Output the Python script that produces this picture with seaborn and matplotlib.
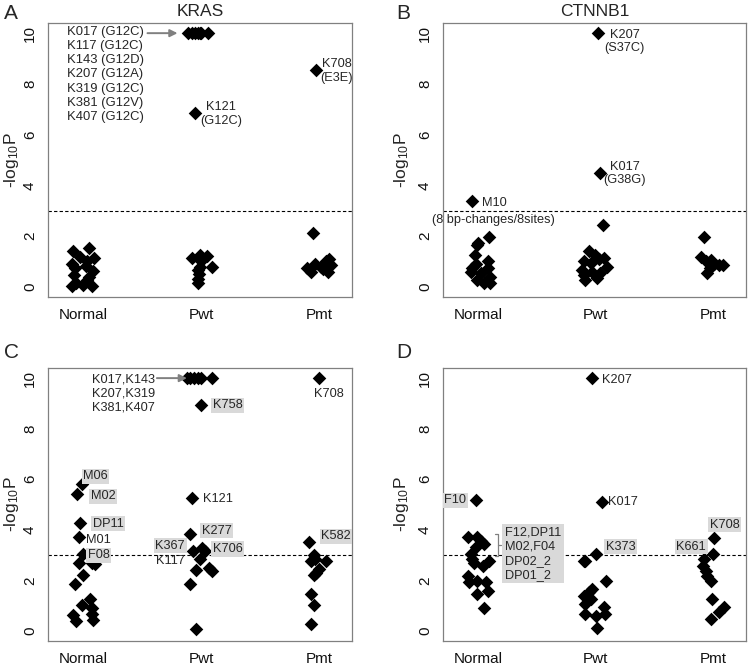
import matplotlib
matplotlib.use("Agg")
import matplotlib.pyplot as plt
import pandas as pd
import seaborn as sns

# %% data: -log10 P per sample, plus the horizontal jitter
groups = ["Normal", "Pwt", "Pmt"]

# A  KRAS
kras_normal_y = [1.43, 1.55, 1.12, 0.92, 1.18, 1.0, 0.75, 0.82, 0.62, 0.45, 0.38, 0.15, 0.08, 0.05, 0.05, 0.25]
kras_normal_dx = [-0.09, 0.05, 0.09, -0.1, -0.03, 0.03, -0.07, 0.02, 0.08, -0.08, 0.05, -0.06, 0.0, 0.07, -0.1, 0.03]
kras_pwt_y = [10, 10, 10, 10, 10, 10, 10, 6.87, 1.26, 1.2, 1.13, 1.0, 0.8, 0.8, 0.65, 0.5, 0.3, 0.15]
kras_pwt_dx = [-0.11, -0.08, -0.05, -0.03, -0.01, 0.0, 0.06, -0.05, -0.01, 0.05, -0.08, 0.0, 0.09, -0.01, -0.03, -0.02, -0.03, -0.03]
kras_pmt_y = [8.55, 2.12, 0.75, 0.6, 0.9, 0.8, 1.0, 1.1, 0.6, 0.85, 0.7]
kras_pmt_dx = [-0.02, -0.05, -0.1, -0.07, -0.03, 0.02, 0.06, 0.09, 0.08, 0.1, 0.04]

# B  CTNNB1
ctnnb1_normal_y = [3.4, 1.96, 1.73, 1.65, 1.25, 1.0, 0.9, 0.74, 0.74, 0.55, 0.4, 0.28, 0.15, 0.15, 0.6]
ctnnb1_normal_dx = [-0.05, 0.09, 0.0, -0.01, -0.03, 0.08, -0.02, -0.05, 0.08, 0.02, 0.1, -0.01, 0.05, 0.1, -0.06]
ctnnb1_pwt_y = [10.0, 4.49, 2.45, 1.4, 1.27, 1.13, 1.0, 0.93, 0.8, 0.67, 0.6, 0.54, 0.45, 0.28, 0.34, 1.1]
ctnnb1_pwt_dx = [0.02, 0.04, 0.06, -0.06, -0.01, 0.07, -0.1, -0.04, 0.1, -0.12, -0.03, 0.04, -0.1, -0.09, 0.01, 0.03]
ctnnb1_pmt_y = [1.96, 1.18, 1.0, 1.05, 0.9, 0.85, 0.55, 0.75, 0.85]
ctnnb1_pmt_dx = [-0.08, -0.1, -0.06, -0.02, 0.01, 0.05, -0.05, -0.03, 0.08]

# C  KRAS (second set)
c_normal_y = [5.8, 5.43, 4.26, 3.73, 3.06, 2.68, 2.7, 2.65, 2.23, 1.87, 1.26, 1.03, 0.92, 0.62, 0.4, 0.66, 0.45]
c_normal_dx = [-0.01, -0.05, -0.03, -0.04, 0.0, -0.04, 0.07, 0.1, 0.0, -0.07, 0.06, -0.01, 0.07, -0.085, -0.06, 0.07, 0.085]
c_pwt_y = [10, 10, 10, 10, 10, 10, 8.93, 5.27, 3.85, 3.15, 3.28, 3.15, 2.84, 2.41, 2.49, 2.38, 1.85, 0.07]
c_pwt_dx = [-0.12, -0.09, -0.06, -0.03, 0.0, 0.09, 0.0, -0.08, -0.095, -0.07, 0.01, 0.03, -0.01, -0.04, 0.07, 0.09, -0.095, -0.04]
c_pmt_y = [10.0, 3.52, 3.0, 2.75, 2.85, 2.78, 2.45, 2.3, 2.2, 1.45, 1.03, 0.27]
c_pmt_dx = [0.0, -0.08, -0.04, -0.07, -0.03, 0.06, 0.0, -0.02, -0.04, -0.07, -0.04, -0.07]

# D  CTNNB1 (second set)
d_normal_y = [5.16, 3.7, 3.7, 3.57, 3.44, 3.3, 3.04, 2.85, 2.78, 2.58, 2.18, 1.92, 1.98, 1.92, 1.46, 1.59, 0.9, 2.7]
d_normal_dx = [-0.02, -0.085, -0.01, 0.02, 0.05, -0.02, -0.06, -0.05, 0.09, 0.04, -0.09, -0.08, -0.01, 0.07, -0.01, 0.08, 0.05, -0.04]
d_pwt_y = [10.0, 5.09, 3.04, 2.78, 2.75, 1.98, 1.65, 1.52, 1.39, 1.26, 1.06, 0.93, 0.66, 0.6, 0.66, 0.13]
d_pwt_dx = [-0.03, 0.05, 0.0, -0.1, -0.09, 0.09, -0.03, -0.06, -0.1, -0.04, -0.09, 0.07, -0.09, 0.0, 0.08, 0.01]
d_pmt_y = [3.68, 3.04, 2.84, 2.58, 2.38, 2.18, 1.98, 1.26, 0.93, 0.73, 0.46]
d_pmt_dx = [0.01, 0.0, -0.08, -0.09, -0.06, -0.05, -0.02, -0.01, 0.09, 0.05, -0.02]

threshold = 3

# %% style
sns.set_style("white")
plt.rcParams["font.family"] = ["Liberation Sans", "DejaVu Sans"]
plt.rcParams["mathtext.fontset"] = "custom"
plt.rcParams["mathtext.rm"] = "Liberation Sans"
plt.rcParams["mathtext.default"] = "regular"

FRAME = "#808080"
BOX = dict(boxstyle="square,pad=0.12", fc="#d9d9d9", ec="none")


def make_frame(ys, dxs):
    rows = []
    for i, (g, y, dx) in enumerate(zip(groups, ys, dxs)):
        for v, d in zip(y, dx):
            rows.append({"group": g, "pos": i + d, "value": v})
    return pd.DataFrame(rows)


def draw_panel(ax, df, title=None, label_x=-0.09):
    sns.scatterplot(data=df, x="pos", y="value", ax=ax, marker="D", s=48,
                    color="black", linewidth=0, legend=False, zorder=3)
    ax.axhline(threshold, color="black", ls=(0, (3, 2)), lw=0.8, zorder=2)
    ax.set_xlim(-0.3, 2.28)
    ax.set_ylim(-0.4, 10.4)
    ax.set_xticks(range(3))
    ax.set_xticklabels(groups, fontsize=11)
    ax.set_yticks([0, 2, 4, 6, 8, 10])
    ax.set_yticklabels(["0", "2", "4", "6", "8", "10"], rotation=90, va="center", fontsize=11)
    ax.set_xlabel("")
    ax.set_ylabel("-log$_{10}$P", fontsize=12.5)
    ax.yaxis.set_label_coords(label_x, 0.5)
    ax.tick_params(axis="both", length=4, width=0.8, color=FRAME, pad=4, colors="#111111")
    for sp in ax.spines.values():
        sp.set_color(FRAME)
        sp.set_linewidth(0.9)
    if title:
        ax.set_title(title, fontsize=12.5, pad=5)


fig = plt.figure(figsize=(7.5, 6.65), dpi=100)
ax_a = fig.add_axes([0.064, 0.5534, 0.405, 0.412])
ax_b = fig.add_axes([0.5907, 0.5534, 0.404, 0.412])
ax_c = fig.add_axes([0.064, 0.0361, 0.405, 0.4105])
ax_d = fig.add_axes([0.5907, 0.0361, 0.404, 0.4105])

draw_panel(ax_a, make_frame([kras_normal_y, kras_pwt_y, kras_pmt_y],
                            [kras_normal_dx, kras_pwt_dx, kras_pmt_dx]), "KRAS")
draw_panel(ax_b, make_frame([ctnnb1_normal_y, ctnnb1_pwt_y, ctnnb1_pmt_y],
                            [ctnnb1_normal_dx, ctnnb1_pwt_dx, ctnnb1_pmt_dx]), "CTNNB1", -0.105)
draw_panel(ax_c, make_frame([c_normal_y, c_pwt_y, c_pmt_y],
                            [c_normal_dx, c_pwt_dx, c_pmt_dx]))
draw_panel(ax_d, make_frame([d_normal_y, d_pwt_y, d_pmt_y],
                            [d_normal_dx, d_pwt_dx, d_pmt_dx]), None, -0.105)

fs = 9.2
arrow = dict(arrowstyle="-|>", color=FRAME, lw=1.4, mutation_scale=11, shrinkA=0, shrinkB=0)

# %% A labels
ax_a.text(-0.14, 10.3, "K017 (G12C)\nK117 (G12C)\nK143 (G12D)\nK207 (G12A)\nK319 (G12C)\n"
          "K381 (G12V)\nK407 (G12C)", fontsize=9.4, va="top", ha="left", linespacing=1.25)
ax_a.annotate("", xy=(0.80, 10), xytext=(0.545, 10), arrowprops=arrow)
ax_a.text(1.17, 6.82, "K121\n(G12C)", fontsize=fs, ha="center", va="center")
ax_a.text(2.15, 8.52, "K708\n(E3E)", fontsize=fs, ha="center", va="center")

# %% B labels
ax_b.text(1.245, 9.67, "K207\n(S37C)", fontsize=fs, ha="center", va="center")
ax_b.text(1.25, 4.47, "K017\n(G38G)", fontsize=fs, ha="center", va="center")
ax_b.text(0.035, 3.3, "M10", fontsize=fs, ha="left", va="center")
ax_b.text(0.132, 2.62, "(8 bp-changes/8sites)", fontsize=fs, ha="center", va="center",
          clip_on=False)

# %% C labels
ax_c.text(0.61, 9.39, "K017,K143\nK207,K319\nK381,K407", fontsize=fs, ha="right",
          va="center", linespacing=1.25)
ax_c.annotate("", xy=(0.88, 10), xytext=(0.625, 10), arrowprops=arrow)
ax_c.text(1.10, 8.93, "K758", fontsize=fs, va="center", bbox=BOX)
ax_c.text(2.085, 9.39, "K708", fontsize=fs, ha="center", va="center")
ax_c.text(0.0, 6.12, "M06", fontsize=fs, va="center", bbox=BOX)
ax_c.text(0.065, 5.33, "M02", fontsize=fs, va="center", bbox=BOX)
ax_c.text(0.082, 4.23, "DP11", fontsize=fs, va="center", bbox=BOX)
ax_c.text(0.025, 3.6, "M01", fontsize=fs, va="center")
ax_c.text(0.037, 3.0, "F08", fontsize=fs, va="center", bbox=BOX)
ax_c.text(1.02, 5.23, "K121", fontsize=fs, va="center")
ax_c.text(1.005, 3.97, "K277", fontsize=fs, va="center", bbox=BOX)
ax_c.text(0.864, 3.37, "K367", fontsize=fs, ha="right", va="center", bbox=BOX)
ax_c.text(0.864, 2.78, "K117", fontsize=fs, ha="right", va="center")
ax_c.text(1.10, 3.24, "K706", fontsize=fs, va="center", bbox=BOX)
ax_c.text(2.02, 3.74, "K582", fontsize=fs, va="center", bbox=BOX)

# %% D labels
ax_d.text(1.057, 9.92, "K207", fontsize=fs, va="center")
ax_d.text(-0.102, 5.16, "F10", fontsize=fs, ha="right", va="center", bbox=BOX)
ax_d.text(1.105, 5.09, "K017", fontsize=fs, va="center")
ax_d.text(0.226, 3.06, "F12,DP11\nM02,F04\nDP02_2\nDP01_2", fontsize=fs, ha="left",
          va="center", linespacing=1.25, bbox=dict(boxstyle="square,pad=0.2", fc="#d9d9d9", ec="none"))
ax_d.plot([0.14, 0.165, 0.165, 0.14], [3.85, 3.85, 2.95, 2.95], color=FRAME, lw=0.9)
ax_d.plot([0.165, 0.19], [3.4, 3.4], color=FRAME, lw=0.9)
ax_d.text(1.085, 3.33, "K373", fontsize=fs, va="center", bbox=BOX)
ax_d.text(1.94, 3.33, "K661", fontsize=fs, ha="right", va="center", bbox=BOX)
ax_d.text(1.97, 4.2, "K708", fontsize=fs, va="center", bbox=BOX)

# %% panel letters
for lab, x, y in [("A", 0.005, 0.98), ("B", 0.528, 0.98), ("C", 0.005, 0.47), ("D", 0.528, 0.47)]:
    fig.text(x, y, lab, fontsize=15, ha="left", va="center")

fig.savefig("out.png", dpi=100)
